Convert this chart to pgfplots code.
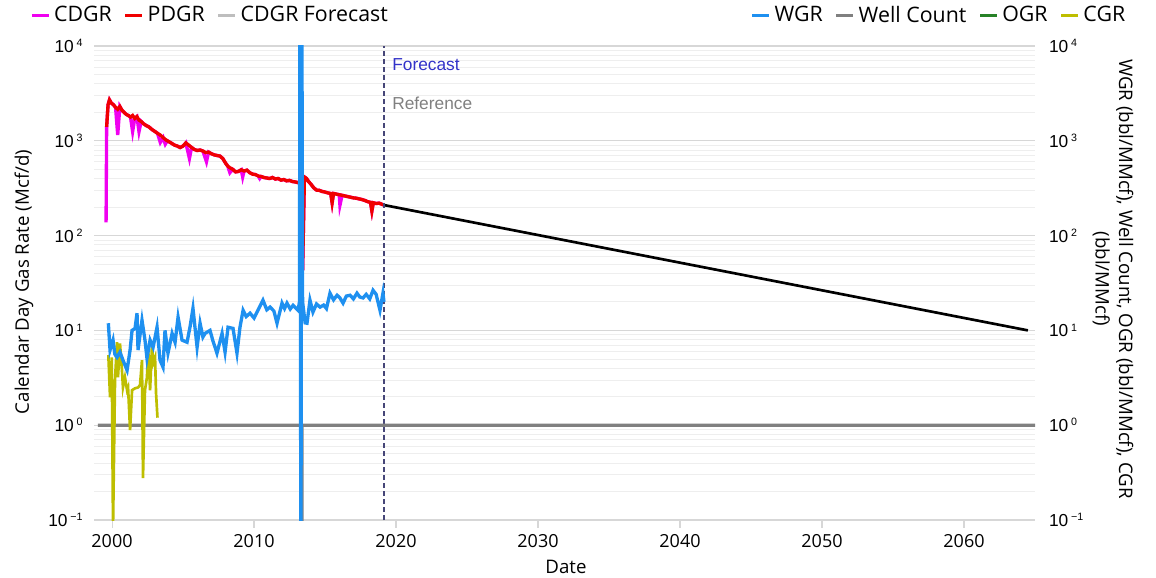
\documentclass[border=0pt]{standalone}
\usepackage{pgfplots}
\usepackage{pgfplotstable}
\pgfplotsset{compat=1.18}
\usepackage{fontspec}
\setmainfont{Open Sans}
\newfontfamily\arialf{Liberation Sans}
\definecolor{cdgr}{RGB}{240,0,240}
\definecolor{pdgr}{RGB}{240,0,0}
\definecolor{fcgray}{RGB}{190,190,190}
\definecolor{wgr}{RGB}{30,144,240}
\definecolor{wellc}{RGB}{128,128,128}
\definecolor{ogr}{RGB}{40,130,40}
\definecolor{cgr}{RGB}{190,190,0}
\definecolor{majgrid}{RGB}{215,215,215}
\definecolor{mingrid}{RGB}{238,238,238}
\definecolor{fctext}{RGB}{50,50,200}
\definecolor{vline}{RGB}{70,70,120}

\pgfplotstableread{
x y
1999.62 1400
1999.72 2400
1999.82 2700
1999.95 2500
2000.10 2400
2000.25 2250
2000.40 2150
2000.55 2300
2000.70 2100
2000.85 2000
2001.00 1900
2001.15 1850
2001.30 1780
2001.45 1850
2001.60 1720
2001.75 1800
2001.90 1650
2002.05 1600
2002.20 1520
2002.40 1450
2002.60 1400
2002.80 1320
2003.00 1260
2003.20 1200
2003.40 1150
2003.60 1080
2003.80 1020
2004.00 980
2004.20 940
2004.40 900
2004.60 880
2004.80 850
2005.00 880
2005.20 950
2005.40 900
2005.60 850
2005.80 810
2006.00 790
2006.20 800
2006.40 780
2006.60 750
2006.80 760
2007.00 730
2007.20 710
2007.40 700
2007.60 690
2007.80 650
2008.00 580
2008.15 540
2008.30 520
2008.50 500
2008.70 470
2008.90 475
2009.10 495
2009.30 480
2009.50 490
2009.70 460
2009.90 445
2010.10 440
2010.30 425
2010.50 420
2010.70 410
2010.90 405
2011.10 400
2011.30 410
2011.50 395
2011.70 400
2011.90 385
2012.10 390
2012.30 378
2012.50 382
2012.70 372
2012.90 368
2013.10 362
2013.30 355
2013.42 43
2013.55 415
2013.70 400
2013.85 370
2014.00 350
2014.20 320
2014.40 302
2014.60 300
2014.80 292
2015.00 288
2015.20 282
2015.40 278
2015.50 222
2015.60 278
2015.80 274
2016.00 270
2016.20 266
2016.40 262
2016.60 258
2016.80 254
2017.00 250
2017.20 248
2017.40 244
2017.60 240
2017.80 235
2018.00 228
2018.20 224
2018.30 182
2018.40 222
2018.60 218
2018.80 220
2019.00 214
2019.15 210
}\pdgrtable

\pgfplotstableread{
x y
1999.58 138
1999.62 1400
1999.72 2400
1999.82 2700
1999.95 2500
2000.10 2400
2000.25 2250
2000.40 1150
2000.55 2300
2000.70 2100
2000.85 2000
2001.00 1900
2001.15 1850
2001.30 1780
2001.45 1250
2001.60 1720
2001.75 1800
2001.90 1250
2002.05 1600
2002.20 1520
2002.40 1450
2002.60 1400
2002.80 1320
2003.00 1260
2003.20 1200
2003.40 960
2003.60 1080
2003.75 920
2003.90 1000
2004.00 980
2004.20 940
2004.40 900
2004.60 880
2004.80 850
2005.00 880
2005.20 950
2005.45 650
2005.60 850
2005.80 810
2006.00 790
2006.20 800
2006.40 780
2006.65 600
2006.80 760
2007.00 730
2007.20 710
2007.40 700
2007.60 690
2007.80 650
2008.00 580
2008.15 540
2008.30 460
2008.50 500
2008.70 470
2008.90 475
2009.10 495
2009.20 415
2009.30 480
2009.50 490
2009.70 460
2009.90 445
2010.10 440
2010.30 425
2010.40 400
2010.50 420
2010.70 410
2010.90 405
2011.10 400
2011.30 410
2011.50 395
2011.70 400
2011.90 385
2012.10 390
2012.30 378
2012.50 382
2012.70 372
2012.90 368
2013.10 362
2013.30 355
2013.42 43
2013.55 415
2013.70 400
2013.85 370
2014.00 350
2014.20 320
2014.40 302
2014.60 300
2014.80 292
2015.00 288
2015.20 282
2015.40 278
2015.50 222
2015.60 278
2015.80 274
2016.00 270
2016.05 209
2016.20 266
2016.40 262
2016.60 258
2016.80 254
2017.00 250
2017.20 248
2017.40 244
2017.60 240
2017.80 235
2018.00 228
2018.20 224
2018.30 182
2018.40 222
2018.60 218
2018.80 220
2019.00 214
2019.15 210
}\cdgrtable

\pgfplotstableread{
x y
2019.15 210
2064.50 10
}\fctable

\pgfplotstableread{
x y
1999.74 11.9
1999.86 6.2
2000.07 7.9
2000.20 5.6
2000.35 5.2
2000.56 5.9
2000.77 4.85
2001.06 3.8
2001.27 6.2
2001.41 10.0
2001.62 10.5
2001.76 15.2
2001.83 6.2
2002.11 12.8
2002.32 7.9
2002.46 5.1
2002.68 7.9
2002.89 6.65
2003.17 10.8
2003.38 4.85
2003.59 4.1
2003.73 10.0
2003.94 5.75
2004.23 9.3
2004.44 7.5
2004.65 13.8
2004.93 7.9
2005.28 7.5
2005.49 10.8
2005.70 17.1
2005.99 6.65
2006.20 11.9
2006.40 8.5
2006.55 9.3
2006.90 10.0
2007.10 7.8
2007.39 5.75
2007.75 9.3
2007.96 5.9
2008.17 10.8
2008.52 10.5
2008.80 5.75
2009.01 10.8
2009.23 16.3
2009.45 14.0
2009.72 15.2
2010.00 13.5
2010.21 15.6
2010.63 20.8
2010.90 16.5
2011.13 17.6
2011.40 16.0
2011.62 11.9
2011.97 19.4
2012.15 17.0
2012.32 19.4
2012.55 16.8
2012.75 18.4
2013.10 16.3
2013.20 20
2013.24 100000
2013.30 0.01
2013.36 100000
2013.42 20
2013.60 12
2013.73 11.9
2013.94 20.8
2014.15 15.6
2014.40 19.0
2014.65 17.6
2014.90 18.5
2015.10 17.0
2015.35 24.7
2015.60 21.0
2015.85 23.5
2016.05 22.0
2016.27 19.4
2016.50 23.0
2016.76 23.5
2017.00 21.5
2017.25 24.7
2017.45 22.5
2017.68 22
2017.90 24.0
2018.15 21.5
2018.38 26.5
2018.60 24.0
2018.87 16.3
2019.08 24.7
2019.15 20
}\wgrtable

\pgfplotstableread{
x y
1999.00 1
2013.30 1
2013.32 0.01
2013.36 0.01
2013.38 1
2065.00 1
}\welltable

\pgfplotstableread{
x y
1999.74 5.5
1999.86 1.97
1999.98 5.2
2000.07 0.08
2000.21 3.0
2000.35 7.5
2000.42 3.2
2000.56 7.3
2000.70 3.8
2000.77 2.5
2000.91 3.2
2001.06 2.34
2001.13 2.5
2001.27 0.886
2001.41 2.34
2001.62 2.45
2001.83 2.5
2001.97 2.64
2002.11 4.85
2002.18 0.276
2002.32 2.34
2002.46 3.2
2002.54 6.65
2002.68 2.34
2002.82 7.3
2002.89 4.5
2003.03 5.2
2003.10 2.17
2003.20 1.2
}\cgrtable

\newcommand{\tl}[1]{{\arialf 10\,\raisebox{0.65ex}{\fontsize{8}{9}\selectfont #1}}}

\begin{document}
\begin{tikzpicture}[x=0.75pt,y=0.75pt]
\useasboundingbox (0,0) rectangle (1156,578);
\pgfplotsset{
  every axis/.append style={
    at={(70.5pt,43.5pt)}, anchor=south west, scale only axis,
    width=705.75pt, height=355.5pt,
    xmin=1998.73, xmax=2065.0,
    ymode=log, log basis y=10, ymin=0.1, ymax=10000,
    ytick={0.1,1,10,100,1000,10000},
    yticklabels={\tl{−1},\tl{0},\tl{1},\tl{2},\tl{3},\tl{4}},
    ytick style={draw=none},
    minor ytick={0.2,0.3,0.4,0.5,0.6,0.7,0.8,0.9,2,3,4,5,6,7,8,9,20,30,40,50,60,70,80,90,200,300,400,500,600,700,800,900,2000,3000,4000,5000,6000,7000,8000,9000},
    minor y tick style={draw=none},
    xticklabel style={font=\fontsize{13.5}{15}\selectfont},
    yticklabel style={font=\fontsize{13}{15}\selectfont},
    legend image code/.code={\draw[#1,line width=2.4pt] (0pt,0pt) -- (12.5pt,0pt);},
    legend style={draw=none, fill=none, font=\fontsize{16}{18}\selectfont,
      /tikz/every even column/.append style={column sep=7pt},
      /tikz/every odd column/.append style={column sep=1pt},
      inner sep=0pt},
    legend columns=-1,
    legend cell align=left,
    clip=true,
  }
}
\begin{axis}[
  axis line style={draw=none},
  ymajorgrids, yminorgrids,
  major grid style={majgrid, line width=0.8pt},
  minor grid style={mingrid, line width=0.6pt},
  xtick={2000,2010,2020,2030,2040,2050,2060},
  xticklabels={2000,2010,2020,2030,2040,2050,2060},
  xtick pos=bottom,
  xtick align=outside,
  major tick length=6pt,
  x tick style={majgrid, line width=0.8pt},
  xticklabel style={yshift=-1pt},
  yticklabel style={xshift=-5pt},
  legend style={at={(-0.068,1.065)}, anchor=west},
]
\addlegendimage{cdgr}
\addlegendentry{CDGR}
\addlegendimage{pdgr}
\addlegendentry{PDGR}
\addlegendimage{fcgray}
\addlegendentry{CDGR Forecast}
\addplot[cdgr, line width=2.5pt, forget plot] table[x=x,y=y] {\cdgrtable};
\addplot[pdgr, line width=2.5pt, forget plot] table[x=x,y=y] {\pdgrtable};
\addplot[black, line width=2pt, forget plot] table[x=x,y=y] {\fctable};
\draw[vline, line width=0.9pt, dash pattern=on 3.5pt off 2.5pt] (axis cs:2019.15,0.1) -- (axis cs:2019.15,10000);
\end{axis}
\begin{axis}[
  axis line style={draw=none},
  axis y line*=right,
  hide x axis,
  yticklabel style={xshift=7pt},
  legend style={at={(1.099,1.065)}, anchor=east},
]
\addlegendimage{wgr}
\addlegendentry{WGR}
\addlegendimage{wellc}
\addlegendentry{Well Count}
\addlegendimage{ogr}
\addlegendentry{OGR}
\addlegendimage{cgr}
\addlegendentry{CGR}
\addplot[wellc, line width=2.5pt, forget plot] table[x=x,y=y] {\welltable};
\addplot[cgr, line width=2pt, forget plot] table[x=x,y=y] {\cgrtable};
\addplot[wgr, line width=2.5pt, forget plot] table[x=x,y=y] {\wgrtable};
\end{axis}
\node[anchor=west, font=\arialf\fontsize{13}{15}\selectfont, text=fctext, inner sep=0pt] at (392,513) {Forecast};
\node[anchor=west, font=\arialf\fontsize{13}{15}\selectfont, text=wellc, inner sep=0pt] at (392,475) {Reference};
\node[rotate=90, font=\fontsize{14}{16}\selectfont] at (24,296) {Calendar Day Gas Rate (Mcf/d)};
\node[rotate=-90, align=center, font=\fontsize{14}{17.5}\selectfont] at (1113,299) {WGR (bbl/MMcf), Well Count, OGR (bbl/MMcf), CGR\\(bbl/MMcf)};
\node[font=\fontsize{14}{16}\selectfont] at (566,11) {Date};
\end{tikzpicture}
\end{document}
